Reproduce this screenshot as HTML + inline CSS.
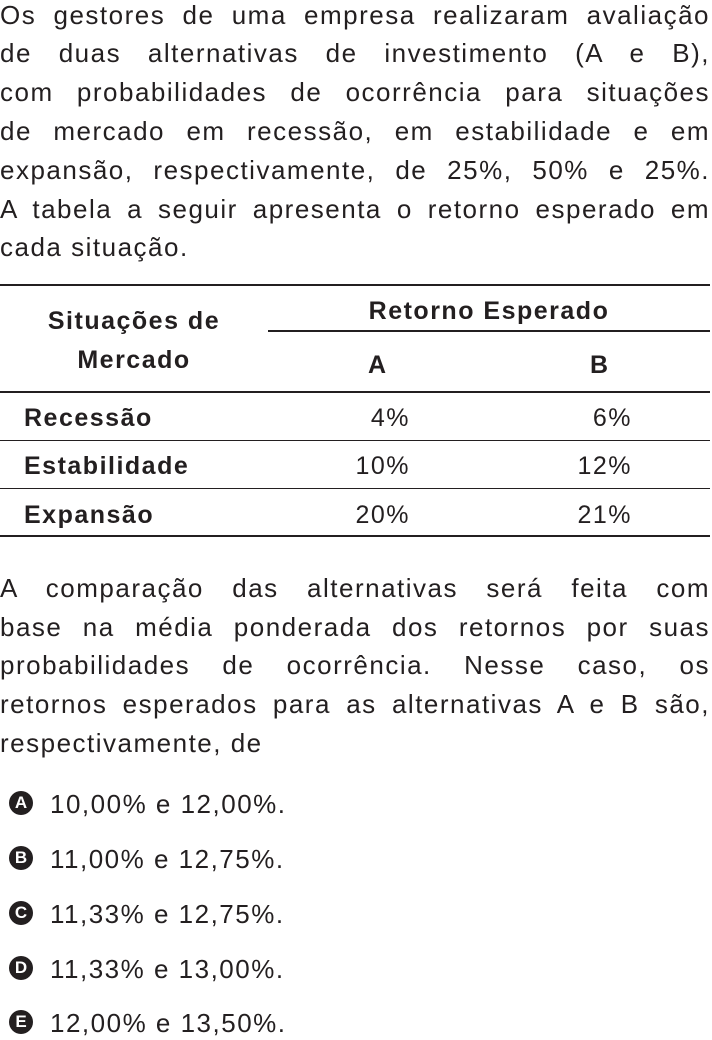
<!DOCTYPE html>
<html><head><meta charset="utf-8"><style>
body{margin:0;width:712px;height:1040px;background:#fff;position:relative;overflow:hidden;font-family:"Liberation Sans",sans-serif;color:#231f20}
.l{position:absolute;left:0;width:710px;font-size:26px;letter-spacing:1.5px;line-height:30px;white-space:nowrap}
.j{text-align:justify;text-align-last:justify;white-space:normal}
.t{position:absolute;font-size:25px;letter-spacing:1.5px;line-height:30px;white-space:nowrap}
.b{font-weight:bold}
.hr{position:absolute;background:#231f20}
.ic{position:absolute;left:9px;width:24px;height:24px;border-radius:50%;background:#231f20;color:#fff;font-weight:bold;font-size:17px;line-height:24px;text-align:center}
.op{position:absolute;left:50px;font-size:26px;letter-spacing:1.5px;line-height:30px}
</style></head><body>
<div>
<div class="l j" style="top:0">Os gestores de uma empresa realizaram avaliação</div>
<div class="l j" style="top:38px">de duas alternativas de investimento (A e B),</div>
<div class="l j" style="top:77px">com probabilidades de ocorrência para situações</div>
<div class="l j" style="top:116px">de mercado em recessão, em estabilidade e em</div>
<div class="l j" style="top:155px">expansão, respectivamente, de 25%, 50% e 25%.</div>
<div class="l j" style="top:194px">A tabela a seguir apresenta o retorno esperado em</div>
<div class="l" style="top:232px">cada situação.</div>
</div>
<div>
<div class="hr" style="top:284px;left:0;width:710px;height:2px"></div>
<div class="t b" style="top:306px;left:0;width:268px;text-align:center">Situações de</div>
<div class="t b" style="top:345px;left:0;width:268px;text-align:center">Mercado</div>
<div class="t b" style="top:296px;left:268px;width:442px;text-align:center">Retorno Esperado</div>
<div class="hr" style="top:330px;left:268px;width:442px;height:2px"></div>
<div class="t b" style="top:350px;left:368px">A</div>
<div class="t b" style="top:350px;left:590px">B</div>
<div class="hr" style="top:391px;left:0;width:710px;height:2px"></div>
<div class="t b" style="top:403px;left:24px">Recessão</div>
<div class="t" style="top:403px;left:300px;width:110px;text-align:right">4%</div>
<div class="t" style="top:403px;left:520px;width:112px;text-align:right">6%</div>
<div class="hr" style="top:440px;left:0;width:710px;height:1px"></div>
<div class="t b" style="top:451px;left:24px">Estabilidade</div>
<div class="t" style="top:451px;left:300px;width:110px;text-align:right">10%</div>
<div class="t" style="top:451px;left:520px;width:112px;text-align:right">12%</div>
<div class="hr" style="top:488px;left:0;width:710px;height:1px"></div>
<div class="t b" style="top:500px;left:24px">Expansão</div>
<div class="t" style="top:500px;left:300px;width:110px;text-align:right">20%</div>
<div class="t" style="top:500px;left:520px;width:112px;text-align:right">21%</div>
<div class="hr" style="top:535px;left:0;width:710px;height:2px"></div>
</div>
<div>
<div class="l j" style="top:573px">A comparação das alternativas será feita com</div>
<div class="l j" style="top:612px">base na média ponderada dos retornos por suas</div>
<div class="l j" style="top:650px">probabilidades de ocorrência. Nesse caso, os</div>
<div class="l j" style="top:689px">retornos esperados para as alternativas A e B são,</div>
<div class="l" style="top:728px">respectivamente, de</div>
</div>
<div><div class="ic" style="top:791px">A</div><div class="op" style="top:789px">10,00% e 12,00%.</div></div>
<div><div class="ic" style="top:846px">B</div><div class="op" style="top:844px">11,00% e 12,75%.</div></div>
<div><div class="ic" style="top:901px">C</div><div class="op" style="top:899px">11,33% e 12,75%.</div></div>
<div><div class="ic" style="top:956px">D</div><div class="op" style="top:954px">11,33% e 13,00%.</div></div>
<div><div class="ic" style="top:1010px">E</div><div class="op" style="top:1008px">12,00% e 13,50%.</div></div>
</body></html>
